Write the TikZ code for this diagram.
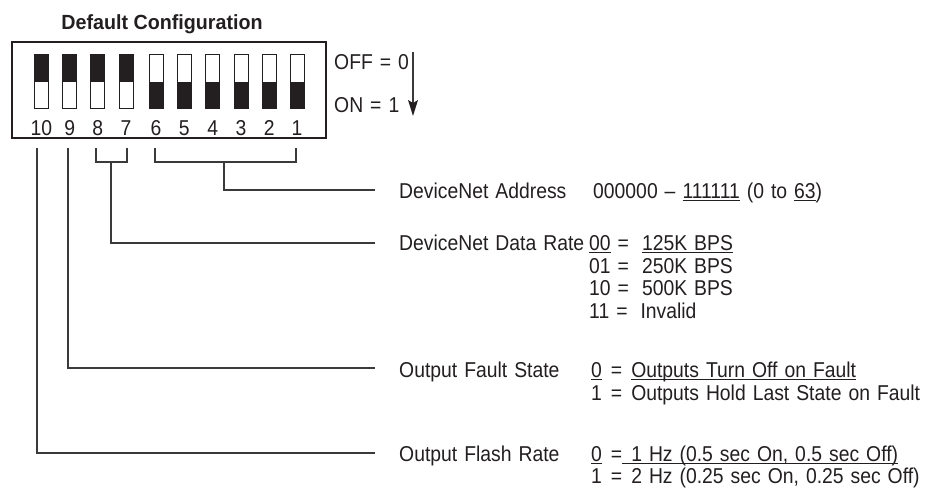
\documentclass[tikz,border=0pt]{standalone}
\usepackage{fontspec}
\setmainfont{Liberation Sans}[FakeStretch=0.9,WordSpace=1.3]
\newfontfamily\titlefont{Liberation Sans}[FakeStretch=0.96]
\usetikzlibrary{arrows.meta}
\definecolor{ink}{HTML}{231F20}
\definecolor{wire}{HTML}{3A3A3A}
\newcommand\myul[1]{\leavevmode\setbox0\hbox{#1}\rlap{\color{ink}\rule[-2.6pt]{\wd0}{1.1pt}}\box0\relax}
\begin{document}
\begin{tikzpicture}[x=1pt,y=-1pt,
  txt/.style={anchor=base west,inner sep=0pt,text=ink,font=\fontsize{21.5}{22}\selectfont},
  num/.style={anchor=base,inner sep=0pt,text=ink,font=\fontsize{21.5}{22}\selectfont},
  wireline/.style={draw=wire,line width=1.1pt},
  headfill/.style={fill=ink}]
\useasboundingbox (0,0) rectangle (936,493);
% title
\node[anchor=base,inner sep=0pt,text=ink,font=\titlefont\bfseries\fontsize{20.5}{22}\selectfont] (title) at (162,29) {Default Configuration};
% outer box
\draw[ink,line width=1.1pt] (12,42) rectangle (326,138);
% switches
\foreach \n/\xx/\st in {10/41.3/1,9/69.7/1,8/97.7/1,7/126/1,6/156/0,5/184.3/0,4/212.7/0,3/241/0,2/269.3/0,1/297/0}{
  \ifnum\st=1
    \fill[ink] (\xx-7,54) rectangle (\xx+7,82);
  \else
    \fill[ink] (\xx-7,82) rectangle (\xx+7,108);
  \fi
  \draw[ink,line width=1pt] (\xx-7,54) rectangle (\xx+7,108);
  \node[num] (n\n) at (\xx,135) {\n};
}
% off/on
\node[txt] (off) at (334,69.5) {OFF = 0};
\node[txt] (on) at (334,112) {ON = 1};
\coordinate (atop) at (413,52);
\coordinate (aneck) at (413,103);
\coordinate (abot) at (413,116);
\draw[wireline] (atop) -- (aneck);
\fill[headfill] (abot) -- ([xshift=-5pt,yshift=16pt]abot) -- (aneck) -- ([xshift=5pt,yshift=16pt]abot) -- cycle;
% brackets and connectors
\coordinate (t10) at (37,148);
\coordinate (t9) at (68,148);
\coordinate (t8) at (96,148);
\coordinate (t7) at (127,148);
\coordinate (t6) at (155,148);
\coordinate (t1) at (296,148);
\draw[wireline] (t8) -- (96,162) -- (127,162) -- (t7);
\draw[wireline] (t6) -- (155,162) -- (296,162) -- (t1);
% labels
\node[txt] (addr) at (399,198) {DeviceNet Address};
\node[txt] (addrv) at (593,198) {000000 – \myul{111111} (0 to \myul{63})};
\node[txt] (rate) at (399,250.5) {DeviceNet Data Rate};
\node[txt] (r00) at (589,250.5) {\myul{00} =\hspace{13pt}\myul{125K BPS}};
\node[txt] (r01) at (589,273) {01 =\hspace{13pt}250K BPS};
\node[txt] (r10) at (589,295.5) {10 =\hspace{13pt}500K BPS};
\node[txt] (r11) at (589,318) {11 =\hspace{13pt}Invalid};
\node[txt] (fault) at (399,377.5) {Output Fault State};
\node[txt] (f0) at (591,377.5) {\myul{0}\hspace{9pt}=\hspace{9pt}\myul{Outputs Turn Off on Fault}};
\node[txt] (f1) at (591,400) {1\hspace{9pt}=\hspace{9pt}Outputs Hold Last State on Fault};
\node[txt] (flash) at (399,461) {Output Flash Rate};
\node[txt] (fl0) at (591,461) {\myul{0}\hspace{9pt}=\myul{\hspace{9pt}1 Hz (0.5 sec On, 0.5 sec Off)}};
\node[txt] (fl1) at (591,483.5) {1\hspace{9pt}=\hspace{9pt}2 Hz (0.25 sec On, 0.25 sec Off)};
\draw[wireline] (224,162) |- ([xshift=-24pt]addr.west |- 0,190);
\draw[wireline] (111,162) |- ([xshift=-24pt]rate.west |- 0,243);
\draw[wireline] (t9) |- ([xshift=-24pt]fault.west |- 0,368);
\draw[wireline] (t10) |- ([xshift=-24pt]flash.west |- 0,453);
\end{tikzpicture}
\end{document}
